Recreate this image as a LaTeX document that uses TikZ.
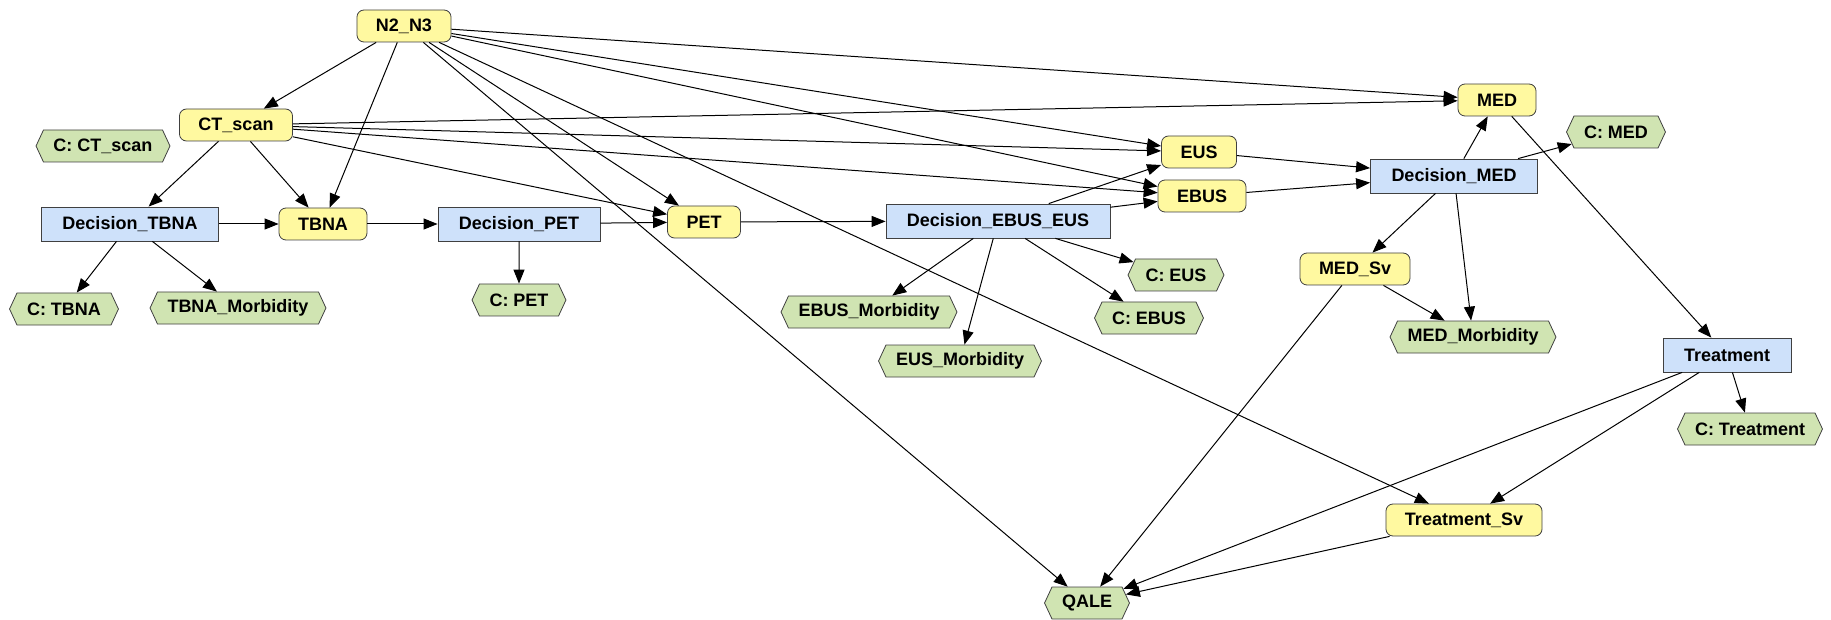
\documentclass[tikz,border=0pt]{standalone}
\usepackage{xcolor}
\usepackage{fontspec}
\setmainfont{Liberation Sans}
\usepackage{tikz}
\usetikzlibrary{arrows.meta,shapes.symbols}

\definecolor{ChanceYellow}{RGB}{255,249,160}
\definecolor{DecisionBlue}{RGB}{206,225,250}
\definecolor{UtilityGreen}{RGB}{208,228,178}

\tikzset{
  chance/.style={draw=black!75, fill=ChanceYellow, rounded corners=3.5pt, minimum height=16pt, inner xsep=9.5pt, font=\bfseries\fontsize{9}{10}\selectfont},
  decision/.style={draw=black!75, fill=DecisionBlue, minimum height=17pt, inner xsep=10.5pt, font=\bfseries\fontsize{9}{10}\selectfont},
  utility/.style={draw=black!75, fill=UtilityGreen, shape=signal, signal to=east and west, signal pointer angle=130, minimum height=16pt, inner xsep=5pt, font=\bfseries\fontsize{9}{10}\selectfont},
  arc/.style={-{Triangle[length=7pt,width=5.5pt]}, line width=0.5pt}
}

\begin{document}
\begin{tikzpicture}[x=0.5pt, y=-0.5pt]
\useasboundingbox (0,0) rectangle (1831,620);
\node[chance] (N2N3) at (404,26) {N2\_N3};
\node[chance] (CTscan) at (236,125) {CT\_scan};
\node[utility] (CCTscan) at (103,146) {C: CT\_scan};
\node[decision] (DecisionTBNA) at (130,224) {Decision\_TBNA};
\node[chance] (TBNA) at (323,224) {TBNA};
\node[decision] (DecisionPET) at (519,224) {Decision\_PET};
\node[utility] (CTBNA) at (64,309) {C: TBNA};
\node[utility] (TBNAMorbidity) at (238,308) {TBNA\_Morbidity};
\node[utility] (CPET) at (519,300) {C: PET};
\node[chance] (PET) at (704,222) {PET};
\node[decision] (DecisionEBUSEUS) at (998,221) {Decision\_EBUS\_EUS};
\node[chance] (EUS) at (1199,152) {EUS};
\node[chance] (EBUS) at (1202,196) {EBUS};
\node[utility] (CEUS) at (1176,275) {C: EUS};
\node[utility] (CEBUS) at (1149,318) {C: EBUS};
\node[utility] (EBUSMorbidity) at (869,312) {EBUS\_Morbidity};
\node[utility] (EUSMorbidity) at (960,361) {EUS\_Morbidity};
\node[chance] (MED) at (1497,100) {MED};
\node[utility] (CMED) at (1616,132) {C: MED};
\node[decision] (DecisionMED) at (1454,176) {Decision\_MED};
\node[chance] (MEDSv) at (1355,269) {MED\_Sv};
\node[utility] (MEDMorbidity) at (1473,337) {MED\_Morbidity};
\node[decision] (Treatment) at (1727,355) {Treatment};
\node[utility] (CTreatment) at (1750,429) {C: Treatment};
\node[chance] (TreatmentSv) at (1464,520) {Treatment\_Sv};
\node[utility] (QALE) at (1087,603) {QALE};
\foreach \a/\b in {N2N3/CTscan,N2N3/TBNA,N2N3/PET,N2N3/QALE,N2N3/EUS,N2N3/EBUS,N2N3/MED,N2N3/TreatmentSv,
  CTscan/DecisionTBNA,CTscan/TBNA,CTscan/PET,CTscan/EUS,CTscan/EBUS,CTscan/MED,
  DecisionTBNA/TBNA,DecisionTBNA/CTBNA,DecisionTBNA/TBNAMorbidity,TBNA/DecisionPET,
  DecisionPET/PET,DecisionPET/CPET,PET/DecisionEBUSEUS,
  DecisionEBUSEUS/EUS,DecisionEBUSEUS/EBUS,DecisionEBUSEUS/CEUS,DecisionEBUSEUS/CEBUS,
  DecisionEBUSEUS/EBUSMorbidity,DecisionEBUSEUS/EUSMorbidity,
  EUS/DecisionMED,EBUS/DecisionMED,DecisionMED/MED,DecisionMED/CMED,DecisionMED/MEDSv,DecisionMED/MEDMorbidity,
  MED/Treatment,MEDSv/MEDMorbidity,MEDSv/QALE,Treatment/CTreatment,Treatment/TreatmentSv,Treatment/QALE,
  TreatmentSv/QALE}\draw[arc](\a) -- (\b);
\end{tikzpicture}
\end{document}
